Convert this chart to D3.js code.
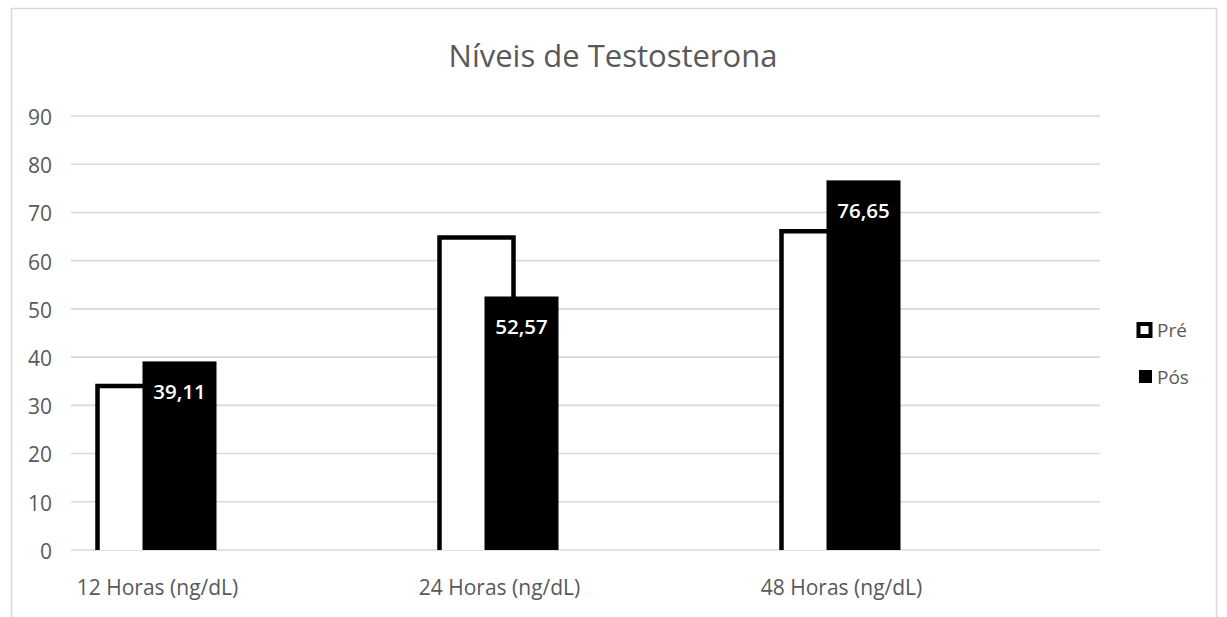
<!DOCTYPE html>
<html>
<head>
<meta charset="utf-8">
<script src="https://cdn.jsdelivr.net/npm/d3@7"></script>
<style>
  html, body { margin: 0; padding: 0; background: #fff; }
  svg { display: block; font-family: "Open Sans", "Noto Sans", sans-serif; }
</style>
</head>
<body>
<svg id="chart" width="1227" height="617"></svg>
<script>
// Testosterone levels before (Pré) and after (Pós), by time point
const categories = ["12 Horas (ng/dL)", "24 Horas (ng/dL)", "48 Horas (ng/dL)"];
const series = ["Pré", "Pós"];
const preValues = [34.0, 64.8, 66.1];
const posValues = [39.11, 52.57, 76.65];
const yTicks = [0, 10, 20, 30, 40, 50, 60, 70, 80, 90];
const title = "Níveis de Testosterona";

const svg = d3.select("#chart");
const plot = { left: 71, right: 1100, top: 116, bottom: 550 };
const textGray = "#595959";
const gridGray = "#d9d9d9";
const barWidth = 74;

// chart frame
svg.append("rect")
  .attr("x", 11.5).attr("y", 8.5)
  .attr("width", 1205).attr("height", 640)
  .attr("fill", "#fff")
  .attr("stroke", gridGray).attr("stroke-width", 1.5);

const y = d3.scaleLinear().domain([0, 90]).range([plot.bottom, plot.top]);
const x = d3.scalePoint().domain(categories).range([157, 841]);
const offset = d3.scalePoint().domain(series).range([-22.5, 22.5]);

// title
svg.append("text")
  .attr("x", 613).attr("y", 67)
  .attr("text-anchor", "middle")
  .attr("font-size", 31)
  .attr("fill", textGray)
  .text(title);

// horizontal gridlines
svg.append("g").selectAll("line")
  .data(yTicks)
  .join("line")
  .attr("x1", plot.left).attr("x2", plot.right)
  .attr("y1", d => y(d)).attr("y2", d => y(d))
  .attr("stroke", gridGray).attr("stroke-width", 1.6);

// y axis labels
const yAxis = svg.append("g")
  .attr("transform", `translate(${plot.left - 19},0)`)
  .call(d3.axisLeft(y).tickValues(yTicks).tickSize(0).tickPadding(0));
yAxis.select(".domain").remove();
yAxis.selectAll("text")
  .attr("font-family", "'Open Sans', sans-serif")
  .attr("font-size", 21)
  .attr("fill", textGray)
  .attr("dy", "0.4em");

// x axis labels
const xAxis = svg.append("g")
  .attr("transform", `translate(0,${plot.bottom})`)
  .call(d3.axisBottom(x).tickSize(0).tickPadding(0));
xAxis.select(".domain").remove();
xAxis.selectAll("text")
  .attr("font-family", "'Open Sans', sans-serif")
  .attr("font-size", 21)
  .attr("fill", textGray)
  .attr("y", 0)
  .attr("dy", 45);

const preData = categories.map((c, i) => ({ c, v: preValues[i] }));
const posData = categories.map((c, i) => ({ c, v: posValues[i] }));

// Pré bars: white with a black outline (open at the baseline)
svg.append("g").selectAll("path")
  .data(preData)
  .join("path")
  .attr("d", d => {
    const x0 = x(d.c) + offset("Pré") - barWidth / 2;
    return `M${x0},${y(0)}V${y(d.v)}H${x0 + barWidth}V${y(0)}`;
  })
  .attr("fill", "#fff")
  .attr("stroke", "#000")
  .attr("stroke-width", 4.5);

// Pós bars: solid black
svg.append("g").selectAll("rect")
  .data(posData)
  .join("rect")
  .attr("x", d => x(d.c) + offset("Pós") - barWidth / 2)
  .attr("y", d => y(d.v))
  .attr("width", barWidth)
  .attr("height", d => y(0) - y(d.v))
  .attr("fill", "#000");

// value labels inside the Pós bars
svg.append("g").selectAll("text")
  .data(posData)
  .join("text")
  .attr("x", d => x(d.c) + offset("Pós"))
  .attr("y", d => y(d.v) + 38)
  .attr("text-anchor", "middle")
  .attr("font-size", 20.5)
  .attr("font-weight", 600)
  .attr("fill", "#fff")
  .text(d => d3.format(".2f")(d.v).replace(".", ","));

// legend
const legend = svg.append("g");
legend.append("rect")
  .attr("x", 1138.5).attr("y", 324)
  .attr("width", 12).attr("height", 12)
  .attr("fill", "#fff").attr("stroke", "#000").attr("stroke-width", 4);
legend.append("rect")
  .attr("x", 1139).attr("y", 370)
  .attr("width", 13).attr("height", 13)
  .attr("fill", "#000");
legend.selectAll("text")
  .data(series)
  .join("text")
  .attr("x", 1157)
  .attr("y", (d, i) => i === 0 ? 337 : 384)
  .attr("font-size", 19)
  .attr("fill", textGray)
  .text(d => d);
</script>
</body>
</html>
